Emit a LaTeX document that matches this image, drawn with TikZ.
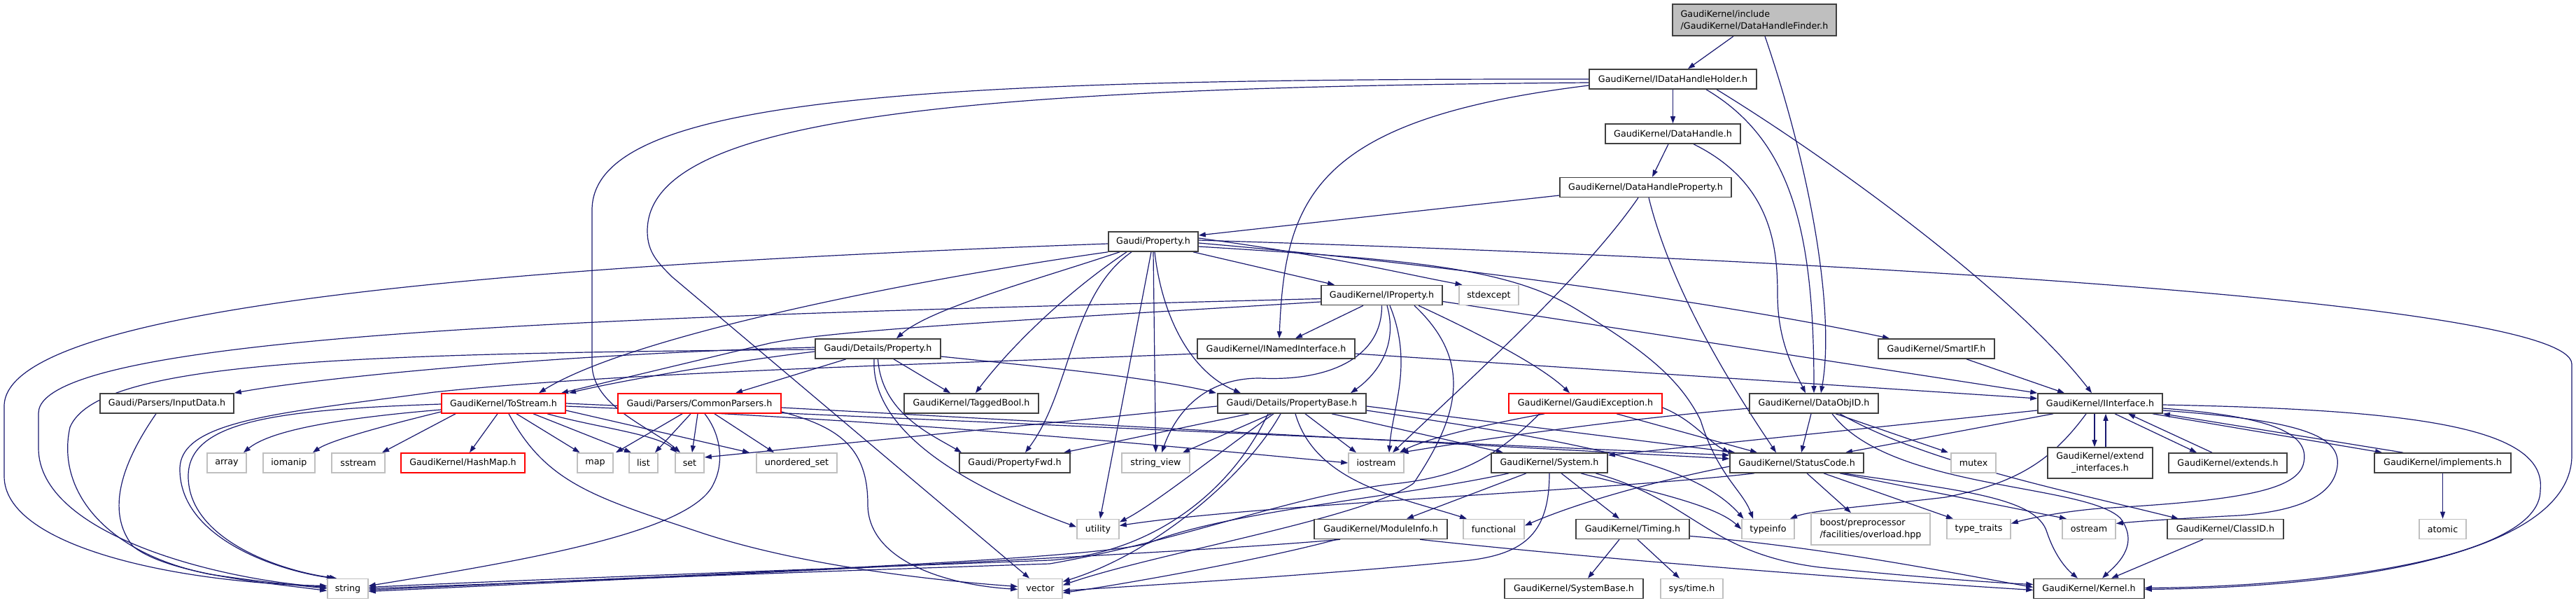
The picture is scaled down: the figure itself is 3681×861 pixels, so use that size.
\documentclass[tikz,border=0pt]{standalone}
\usepackage{fontspec}
\setmainfont{DejaVu Sans}
\usetikzlibrary{arrows.meta}
\definecolor{ec}{HTML}{191970}
\definecolor{lg}{HTML}{BFBFBF}
\definecolor{dg}{HTML}{404040}
\pgfdeclarelayer{bg}
\pgfdeclarelayer{edges}
\pgfsetlayers{bg,edges,main}
\begin{document}
\begin{tikzpicture}[x=1pt,y=-1pt,
  font=\fontsize{12.7}{17}\selectfont,
  nb/.style={draw=dg,line width=1.6pt,fill=white,minimum height=28pt,inner sep=0pt,align=center},
  ng/.style={nb,draw=lg},
  nr/.style={nb,draw=red},
  edg/.style={draw=ec,line width=1.2pt,-{Triangle[length=10pt,width=7pt]}}]
\begin{pgfonlayer}{bg}
\fill[white] (0,0) rectangle (3681,861);
\end{pgfonlayer}
\useasboundingbox (0,0) rectangle (3681,861);
% ---------------- nodes ----------------
\node[nb,fill=lg,minimum width=234pt,minimum height=45pt,align=left] (finder) at (2507,28.5) {GaudiKernel/include\\/GaudiKernel/DataHandleFinder.h};
\node[nb,minimum width=239pt] (holder) at (2390.5,113) {GaudiKernel/IDataHandleHolder.h};
\node[nb,minimum width=193pt] (dhandle) at (2390.5,191) {GaudiKernel/DataHandle.h};
\node[nb,minimum width=245pt] (dhprop) at (2351.5,267.5) {GaudiKernel/DataHandleProperty.h};
\node[nb,minimum width=128pt] (prop) at (1648,345) {Gaudi/Property.h};
\node[nb,minimum width=173pt] (iprop) at (1974.5,421.5) {GaudiKernel/IProperty.h};
\node[ng,minimum width=85pt] (stdexcept) at (2127.5,421.5) {stdexcept};
\node[nb,minimum width=179pt] (dprop) at (1254.5,498) {Gaudi/Details/Property.h};
\node[nb,minimum width=225pt] (inamed) at (1823.5,498) {GaudiKernel/INamedInterface.h};
\node[nb,minimum width=166pt] (smartif) at (2767,498) {GaudiKernel/SmartIF.h};
\node[nb,minimum width=191pt] (inputdata) at (238.5,576) {Gaudi/Parsers/InputData.h};
\node[nr,minimum width=177pt] (tostream) at (719.5,576) {GaudiKernel/ToStream.h};
\node[nr,minimum width=233pt] (cparsers) at (999.5,576) {Gaudi/Parsers/CommonParsers.h};
\node[nb,minimum width=192pt] (tagged) at (1388,576) {GaudiKernel/TaggedBool.h};
\node[nb,minimum width=212pt] (pbase) at (1846,576) {Gaudi/Details/PropertyBase.h};
\node[nr,minimum width=219pt] (gexc) at (2265.5,576) {GaudiKernel/GaudiException.h};
\node[nb,minimum width=184pt] (dobjid) at (2592,576) {GaudiKernel/DataObjID.h};
\node[nb,minimum width=178pt] (iif) at (3001,576) {GaudiKernel/IInterface.h};
\node[ng,minimum width=56pt] (array) at (324,661) {array};
\node[ng,minimum width=74pt] (iomanip) at (413,661) {iomanip};
\node[ng,minimum width=76pt] (sstream) at (512,661) {sstream};
\node[nr,minimum width=177pt] (hashmap) at (661.5,661) {GaudiKernel/HashMap.h};
\node[ng,minimum width=51pt] (map) at (850.5,661) {map};
\node[ng,minimum width=41pt] (list) at (919.5,661) {list};
\node[ng,minimum width=41pt] (set) at (985.5,661) {set};
\node[ng,minimum width=115pt] (uset) at (1138.5,661) {unordered\_set};
\node[nb,minimum width=158pt] (pfwd) at (1450,661) {Gaudi/PropertyFwd.h};
\node[ng,minimum width=97pt] (sview) at (1651.5,661) {string\_view};
\node[ng,minimum width=79pt] (iostream) at (1966.5,661) {iostream};
\node[nb,minimum width=166pt] (system) at (2214,661) {GaudiKernel/System.h};
\node[nb,minimum width=191pt] (status) at (2567.5,661) {GaudiKernel/StatusCode.h};
\node[ng,minimum width=64pt] (mutex) at (2820,661) {mutex};
\node[nb,minimum width=150pt,minimum height=44pt] (extif) at (3001,661) {GaudiKernel/extend\\\_interfaces.h};
\node[nb,minimum width=169pt] (extends) at (3183.5,661) {GaudiKernel/extends.h};
\node[nb,minimum width=195pt] (implements) at (3490.5,661) {GaudiKernel/implements.h};
\node[ng,minimum width=60pt] (utility) at (1569,755.5) {utility};
\node[nb,minimum width=190pt] (modinfo) at (1973,755.5) {GaudiKernel/ModuleInfo.h};
\node[ng,minimum width=87pt] (functional) at (2134.5,755.5) {functional};
\node[nb,minimum width=162pt] (timing) at (2333,755.5) {GaudiKernel/Timing.h};
\node[ng,minimum width=75pt] (typeinfo) at (2526.5,755.5) {typeinfo};
\node[ng,minimum width=170pt,minimum height=45pt,align=left] (boost) at (2673,755.5) {boost/preprocessor\\/facilities/overload.hpp};
\node[ng,minimum width=91pt] (ttraits) at (2827.5,755.5) {type\_traits};
\node[ng,minimum width=76pt] (ostream) at (2985,755.5) {ostream};
\node[nb,minimum width=166pt] (classid) at (3180,755.5) {GaudiKernel/ClassID.h};
\node[ng,minimum width=67pt] (atomic) at (3490.5,755.5) {atomic};
\node[ng,minimum width=58pt] (string) at (497,840.5) {string};
\node[ng,minimum width=63pt] (vector) at (1486.5,840.5) {vector};
\node[nb,minimum width=198pt] (sysbase) at (2249,840.5) {GaudiKernel/SystemBase.h};
\node[ng,minimum width=89pt] (systime) at (2417.5,840.5) {sys/time.h};
\node[nb,minimum width=158pt] (kernel) at (2985,840.5) {GaudiKernel/Kernel.h};
% ---------------- edges ----------------
\begin{pgfonlayer}{edges}
% finder
\draw[edg] ([xshift=-30pt]finder.south) -- ([xshift=21.5pt]holder.north);
\draw[edg] ([xshift=15pt]finder.south) .. controls (2590,250) and (2622,450) .. ([xshift=10pt]dobjid.north);
% holder
\draw[edg] (holder.south) -- (dhandle.north);
\draw[edg] ([xshift=47.5pt]holder.south) .. controls (2560,200) and (2592,330) .. (dobjid.north);
\draw[edg] ([xshift=62.5pt]holder.south) .. controls (2620,230) and (2880,420) .. ([xshift=-12pt]iif.north);
\draw[edg] ([yshift=-9pt]holder.west) .. controls (1880,170) and (1836,280) .. ([xshift=4.5pt]inamed.north);
\draw[edg] (holder.west) .. controls (1300,112) and (846,140) .. (846,300) -- (846,520) .. controls (846,580) and (930,610) .. ([xshift=-13.5pt]set.north);
\draw[edg] ([yshift=-5pt]holder.west) .. controls (1350,125) and (925,170) .. (925,330) .. controls (925,360) and (940,375) .. (960,395) -- ([xshift=-15.5pt]vector.north);
% dhandle
\draw[edg] ([xshift=-6.5pt]dhandle.south) -- ([xshift=9.5pt]dhprop.north);
\draw[edg] ([xshift=29.5pt]dhandle.south) .. controls (2530,260) and (2540,350) .. (2540,420) .. controls (2540,490) and (2565,530) .. ([xshift=-12pt]dobjid.north);
% dhprop
\draw[edg] ([yshift=-11.5pt]dhprop.west) -- ([yshift=9pt]prop.east);
\draw[edg] ([xshift=-10.5pt]dhprop.south) .. controls (2260,400) and (2080,560) .. ([xshift=23.5pt]iostream.north);
\draw[edg] ([xshift=4.5pt]dhprop.south) .. controls (2390,420) and (2480,560) .. ([xshift=-29.5pt]status.north);
% prop
\draw[edg] ([yshift=-3pt]prop.west) .. controls (700,380) and (6,440) .. (6,580) -- (6,680) .. controls (6,780) and (250,832) .. ([yshift=4pt]string.west);
\draw[edg] (prop.south west) .. controls (1300,400) and (900,480) .. ([xshift=50.5pt]tostream.north);
\draw[edg] ([xshift=-48pt]prop.south) .. controls (1480,400) and (1330,440) .. ([xshift=26.5pt]dprop.north);
\draw[edg] ([xshift=-38pt]prop.south) .. controls (1520,420) and (1440,500) .. ([xshift=6pt]tagged.north);
\draw[edg] ([xshift=-31pt]prop.south) .. controls (1530,420) and (1530,560) .. ([xshift=15pt]pfwd.north);
\draw[edg] ([xshift=-3pt]prop.south) -- ([xshift=3pt]utility.north);
\draw[edg] ([xshift=0pt]prop.south) -- (sview.north);
\draw[edg] ([xshift=2pt]prop.south) .. controls (1660,450) and (1700,530) .. ([xshift=-73pt]pbase.north);
\draw[edg] ([xshift=57pt]prop.south) -- ([xshift=-67.5pt]iprop.north);
\draw[edg] ([yshift=5pt]prop.east) .. controls (1900,365) and (2000,390) .. ([xshift=-38pt]stdexcept.north);
\draw[edg] ([yshift=-2pt]prop.east) .. controls (2100,380) and (2500,440) .. ([xshift=-67pt]smartif.north);
\draw[edg] ([yshift=-7pt]prop.east) .. controls (2000,370) and (2150,380) .. (2250,440) .. controls (2350,500) and (2400,540) .. (2430,600) .. controls (2455,680) and (2490,700) .. ([xshift=-21.5pt]typeinfo.north);
\draw[edg] ([yshift=2pt]prop.east) .. controls (2600,370) and (3675,430) .. (3675,520) -- (3675,650) .. controls (3675,780) and (3400,838) .. ([yshift=-1pt]kernel.east);
% iprop
\draw[edg] ([xshift=-26.5pt]iprop.south) -- ([xshift=27.5pt]inamed.north);
\draw[edg] ([xshift=7.5pt]iprop.south) .. controls (2000,500) and (1960,540) .. ([xshift=84pt]pbase.north);
\draw[edg] (iprop.south) .. controls (1975,510) and (1900,545) .. (1800,540) .. controls (1720,540) and (1680,590) .. ([xshift=8.5pt]sview.north);
\draw[edg] ([xshift=11.5pt]iprop.south) .. controls (2020,520) and (1990,580) .. ([xshift=18.5pt]iostream.north);
\draw[edg] ([xshift=46.5pt]iprop.south) .. controls (2110,520) and (2080,600) .. (2020,690) .. controls (1950,740) and (1650,790) .. ([yshift=5pt]vector.east);
\draw[edg] ([xshift=52.5pt]iprop.south) .. controls (2100,470) and (2200,520) .. ([xshift=-22.5pt]gexc.north);
\draw[edg] ([yshift=-9pt]iprop.east) -- (iif.north west);
\draw[edg] ([yshift=-9.5pt]iprop.west) .. controls (1500,455) and (1200,470) .. (1100,490) -- ([xshift=82.5pt]tostream.north);
\draw[edg] ([yshift=-5pt]iprop.west) .. controls (1000,450) and (55,470) .. (55,590) -- (55,640) .. controls (55,760) and (300,826) .. ([yshift=2pt]string.west);
% inamed
\draw[edg] ([yshift=-7pt]inamed.east) -- ([yshift=7pt]iif.west);
\draw[edg] ([yshift=-7pt]inamed.west) .. controls (1400,518) and (900,530) .. (620,560) .. controls (400,590) and (257,600) .. (257,670) .. controls (257,770) and (400,815) .. ([xshift=-20pt]string.north);
% smartif
\draw[edg] ([xshift=43pt]smartif.south) -- ([xshift=-51pt]iif.north);
% dprop
\draw[edg] ([yshift=2pt]dprop.west) .. controls (800,505) and (450,540) .. (inputdata.north east);
\draw[edg] ([yshift=-4pt]dprop.west) .. controls (1050,515) and (880,545) .. ([xshift=93.5pt]tostream.north);
\draw[edg] ([yshift=-1pt]dprop.west) .. controls (500,505) and (140,515) .. (100,610) .. controls (80,700) and (150,790) .. (300,820) .. controls (380,832) and (430,836) .. (string.west);
\draw[edg] ([xshift=-45.5pt]dprop.south) -- ([xshift=51.5pt]cparsers.north);
\draw[edg] ([xshift=22.5pt]dprop.south) -- ([xshift=-30pt]tagged.north);
\draw[edg] ([yshift=-11pt]dprop.east) .. controls (1500,525) and (1650,540) .. ([xshift=-108pt]pbase.north);
\draw[edg] (dprop.south) .. controls (1260,590) and (1330,620) .. ([xshift=-76pt]pfwd.north);
\draw[edg] ([xshift=-5.5pt]dprop.south) .. controls (1245,600) and (1340,680) .. ([yshift=3pt]utility.west);
% inputdata
\draw[edg] ([xshift=-15.5pt]inputdata.south) .. controls (175,660) and (150,730) .. (190,780) .. controls (240,820) and (380,832) .. ([yshift=-3pt]string.west);
% tostream
\draw[edg] ([yshift=-1pt]tostream.west) .. controls (400,585) and (269,600) .. (269,680) .. controls (269,770) and (400,815) .. ([xshift=-16pt]string.north);
\draw[edg] ([yshift=-9pt]tostream.west) .. controls (450,600) and (380,620) .. ([xshift=24pt]array.north);
\draw[edg] ([yshift=-12pt]tostream.west) .. controls (540,610) and (470,630) .. ([xshift=34pt]iomanip.north);
\draw[edg] ([xshift=-68.5pt]tostream.south) -- ([xshift=34pt]sstream.north);
\draw[edg] ([xshift=-8.5pt]tostream.south) -- ([xshift=9.5pt]hashmap.north);
\draw[edg] ([xshift=7.5pt]tostream.south) .. controls (780,690) and (850,710) .. (1000,760) .. controls (1150,810) and (1350,830) .. ([yshift=3pt]vector.west);
\draw[edg] ([xshift=18.5pt]tostream.south) -- ([xshift=-22pt]map.north);
\draw[edg] ([xshift=42.5pt]tostream.south) -- ([xshift=-17.5pt]list.north);
\draw[edg] ([xshift=62.5pt]tostream.south) .. controls (850,610) and (940,620) .. ([xshift=-18.5pt]set.north);
\draw[edg] ([yshift=-10pt]tostream.east) -- ([xshift=-67.5pt]uset.north);
\draw[edg] ([yshift=-4pt]tostream.east) .. controls (1300,600) and (1700,640) .. (iostream.west);
\draw[edg] (tostream.east) -- ([yshift=11pt]status.west);
% cparsers
\draw[edg] ([xshift=-24.5pt]cparsers.south) -- ([xshift=29.5pt]map.north);
\draw[edg] ([xshift=-12.5pt]cparsers.south) -- ([xshift=16.5pt]list.north);
\draw[edg] ([xshift=-2.5pt]cparsers.south) -- ([xshift=3.5pt]set.north);
\draw[edg] ([xshift=7.5pt]cparsers.south) .. controls (1030,620) and (1035,660) .. (1020,690) .. controls (990,760) and (750,800) .. ([yshift=4pt]string.east);
\draw[edg] ([xshift=21.5pt]cparsers.south) -- ([xshift=-32.5pt]uset.north);
\draw[edg] ([yshift=-6pt]cparsers.east) -- ([yshift=6pt]status.west);
\draw[edg] ([yshift=-12pt]cparsers.east) .. controls (1200,610) and (1240,640) .. (1240,720) .. controls (1240,800) and (1350,835) .. ([yshift=-1pt]vector.west);
% pbase
\draw[edg] ([xshift=-61pt]pbase.south) -- ([xshift=70pt]pfwd.north);
\draw[edg] ([xshift=-29pt]pbase.south) -- ([xshift=38.5pt]sview.north);
\draw[edg] ([xshift=-26pt]pbase.south) .. controls (1750,640) and (1650,720) .. ([yshift=10pt]utility.east);
\draw[edg] ([xshift=-16pt]pbase.south) .. controls (1780,680) and (1650,790) .. ([yshift=10pt]vector.east);
\draw[edg] ([xshift=19pt]pbase.south) -- ([xshift=-28.5pt]iostream.north);
\draw[edg] ([xshift=5pt]pbase.south) .. controls (1880,690) and (2000,710) .. ([xshift=-38.5pt]functional.north);
\draw[edg] ([xshift=57pt]pbase.south) -- ([xshift=-66pt]system.north);
\draw[edg] ([yshift=-4pt]pbase.east) -- ([xshift=-88pt]status.north);
\draw[edg] ([yshift=-10pt]pbase.east) .. controls (2250,630) and (2420,660) .. ([xshift=-35pt]typeinfo.north);
\draw[edg] ([yshift=-4pt]pbase.west) -- ([yshift=8pt]set.east);
\draw[edg] ([xshift=-34pt]pbase.south) .. controls (1760,700) and (1650,790) .. (1500,800) .. controls (1100,815) and (700,830) .. ([yshift=2pt]string.east);
% gexc
\draw[edg] ([xshift=-58.5pt]gexc.south) .. controls (2100,610) and (2030,630) .. ([xshift=33.5pt]iostream.north);
\draw[edg] ([xshift=-65.5pt]gexc.south) .. controls (2130,660) and (2080,680) .. (2000,690) .. controls (1850,705) and (1700,770) .. (1500,805) .. controls (1100,818) and (700,834) .. (string.east);
\draw[edg] ([yshift=-6pt]gexc.east) .. controls (2420,600) and (2440,630) .. (status.north west);
\draw[edg] ([xshift=44.5pt]gexc.south) -- ([xshift=-56.5pt]status.north);
% dobjid
\draw[edg] ([xshift=-4pt]dobjid.south) -- ([xshift=6.5pt]status.north);
\draw[edg] ([xshift=31pt]dobjid.south) -- ([xshift=-36pt]mutex.north);
\draw[edg] ([xshift=37pt]dobjid.south) .. controls (2750,660) and (2950,700) .. ([xshift=-67pt]classid.north);
\draw[edg] ([xshift=26pt]dobjid.south) .. controls (2700,700) and (2980,690) .. (3030,740) .. controls (3060,780) and (3020,810) .. ([xshift=19pt]kernel.north);
\draw[edg] ([yshift=-7pt]dobjid.west) .. controls (2300,600) and (2100,630) .. ([xshift=36pt]iostream.north);
% system
\draw[edg] ([xshift=-33pt]system.south) -- ([xshift=37pt]modinfo.north);
\draw[edg] ([xshift=17pt]system.south) -- ([xshift=-19pt]timing.north);
\draw[edg] (system.south) .. controls (2214,760) and (2180,790) .. (2100,800) .. controls (1900,820) and (1650,835) .. ([yshift=-3pt]vector.east);
\draw[edg] ([xshift=-58pt]system.south) .. controls (2000,710) and (1750,730) .. (1640,776) .. controls (1550,800) and (1000,820) .. ([yshift=-2pt]string.east);
\draw[edg] ([xshift=45pt]system.south) .. controls (2350,700) and (2450,720) .. (typeinfo.west);
\draw[edg] ([xshift=66pt]system.south) .. controls (2420,715) and (2440,790) .. (2600,810) .. controls (2750,825) and (2850,832) .. ([yshift=6pt]kernel.west);
% modinfo
\draw[edg] ([xshift=-58pt]modinfo.south) .. controls (1700,790) and (1000,822) .. ([yshift=-4pt]string.east);
\draw[edg] ([xshift=-63pt]modinfo.south) .. controls (1800,800) and (1600,835) .. ([yshift=-6pt]vector.east);
\draw[edg] ([xshift=56pt]modinfo.south) .. controls (2300,800) and (2700,830) .. ([yshift=-2pt]kernel.west);
% timing
\draw[edg] ([xshift=-19pt]timing.south) -- ([xshift=20pt]sysbase.north);
\draw[edg] ([xshift=7pt]timing.south) -- ([xshift=-17.5pt]systime.north);
\draw[edg] ([yshift=-10pt]timing.east) .. controls (2600,780) and (2800,820) .. ([yshift=2pt]kernel.west);
% status
\draw[edg] ([xshift=14.5pt]status.south) -- ([xshift=-28pt]boost.north);
\draw[edg] ([xshift=38.5pt]status.south) -- ([xshift=-36.5pt]ttraits.north);
\draw[edg] ([xshift=61.5pt]status.south) -- ([xshift=-32pt]ostream.north);
\draw[edg] ([xshift=66.5pt]status.south) .. controls (2800,700) and (2910,710) .. (2925,760) .. controls (2935,790) and (2950,810) .. ([xshift=-16pt]kernel.north);
\draw[edg] ([yshift=-5pt]status.west) .. controls (2350,690) and (2250,720) .. ([yshift=5pt]functional.east);
\draw[edg] ([xshift=-60.5pt]status.south) .. controls (2300,700) and (1800,720) .. ([yshift=5pt]utility.east);
% iif
\draw[edg] ([xshift=-67pt]iif.south) -- ([xshift=69.5pt]status.north);
\draw[edg] ([yshift=-10pt]iif.west) -- ([yshift=11pt]system.east);
\draw[edg] ([xshift=-20pt]iif.south) .. controls (2930,660) and (2880,690) .. (2780,710) .. controls (2680,722) and (2590,728) .. ([xshift=31.5pt]typeinfo.north);
\draw[edg] ([xshift=-8pt]iif.south) -- ([xshift=-8pt]extif.north);
\draw[edg] ([xshift=8pt]extif.north) -- ([xshift=8pt]iif.south);
\draw[edg] ([xshift=21pt]iif.south) -- ([xshift=-44.5pt]extends.north);
\draw[edg] ([xshift=-22.5pt]extends.north) -- ([xshift=40pt]iif.south);
\draw[edg] ([xshift=75pt]iif.south) -- ([xshift=-86.5pt]implements.north);
\draw[edg] ([xshift=-56.5pt]implements.north) -- (iif.south east);
\draw[edg] ([yshift=-2pt]iif.east) .. controls (3450,585) and (3640,610) .. (3630,700) .. controls (3630,800) and (3300,838) .. ([yshift=1pt]kernel.east);
\draw[edg] ([yshift=-7pt]iif.east) .. controls (3250,595) and (3300,620) .. (3292,660) .. controls (3285,700) and (3200,715) .. (3000,726) .. controls (2950,730) and (2900,740) .. ([yshift=8pt]ttraits.east);
\draw[edg] ([yshift=-10pt]iif.east) .. controls (3280,600) and (3345,620) .. (3340,665) .. controls (3335,710) and (3280,730) .. (3200,736) .. controls (3120,740) and (3060,744) .. ([yshift=8pt]ostream.east);
% others
\draw[edg] ([xshift=-32pt]classid.south) -- ([xshift=32pt]kernel.north);
\draw[edg] (implements.south) -- (atomic.north);
\end{pgfonlayer}
\end{tikzpicture}
\end{document}
